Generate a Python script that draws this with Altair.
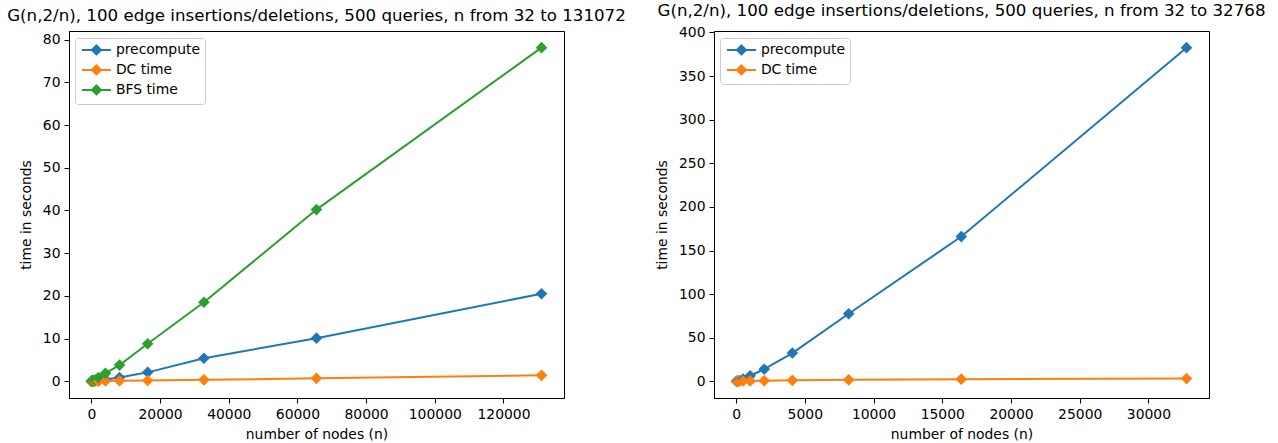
import altair as alt
import pandas as pd

# ---- data ----
n_left = [32, 64, 128, 256, 512, 1024, 2048, 4096, 8192, 16384, 32768, 65536, 131072]
precompute_left = [0.002, 0.004, 0.01, 0.02, 0.05, 0.1, 0.22, 0.45, 0.9, 2.1, 5.4, 10.1, 20.5]
dc_left = [0.01, 0.01, 0.02, 0.02, 0.03, 0.04, 0.06, 0.08, 0.12, 0.2, 0.35, 0.7, 1.4]
bfs_left = [0.01, 0.02, 0.04, 0.08, 0.15, 0.3, 0.9, 1.9, 3.8, 8.8, 18.5, 40.2, 78.1]

n_right = [32, 64, 128, 256, 512, 1024, 2048, 4096, 8192, 16384, 32768]
precompute_right = [0.1, 0.2, 0.5, 1.0, 2.8, 6.5, 14.0, 32.5, 77.5, 166.0, 382.5]
dc_right = [0.2, 0.2, 0.3, 0.3, 0.4, 0.6, 0.8, 1.2, 1.8, 2.6, 3.2]

names_left = ["precompute", "DC time", "BFS time"]
names_right = ["precompute", "DC time"]
colors = ["#1f77b4", "#ff7f0e", "#2ca02c"]

x_ticks_left = [0, 20000, 40000, 60000, 80000, 100000, 120000]
y_ticks_left = [0, 10, 20, 30, 40, 50, 60, 70, 80]
x_ticks_right = [0, 5000, 10000, 15000, 20000, 25000, 30000]
y_ticks_right = [0, 50, 100, 150, 200, 250, 300, 350, 400]

title_left = "G(n,2/n), 100 edge insertions/deletions, 500 queries, n from 32 to 131072"
title_right = "G(n,2/n), 100 edge insertions/deletions, 500 queries, n from 32 to 32768"


def long_table(ns, series, names):
    rows = []
    for name, vals in zip(names, series):
        for n, v in zip(ns, vals):
            rows.append({"n": n, "t": v, "series": name})
    return pd.DataFrame(rows)


def margin_domain(lo, hi):
    m = (hi - lo) * 0.05
    return [lo - m, hi + m]


FONT = "DejaVu Sans"
TICK_FS = 13.9
TITLE_FS = 16.67
# legend handle: a line with a diamond in its middle (units of half the symbol box)
LEG_SYMBOL = "M-1,0L4.8,0M1.9,-0.9L2.8,0L1.9,0.9L1.0,0Z"


def panel(df, names, xticks, yticks, title):
    xdom = margin_domain(df["n"].min(), df["n"].max())
    ydom = margin_domain(df["t"].min(), df["t"].max())
    color = alt.Color(
        "series:N",
        scale=alt.Scale(domain=names, range=colors[: len(names)]),
        legend=alt.Legend(
            title=None,
            orient="none",
            legendX=6,
            legendY=7,
            symbolType=LEG_SYMBOL,
            symbolSize=100,
            symbolStrokeWidth=2,
            labelFont=FONT,
            labelFontSize=TICK_FS,
            labelColor="black",
            labelOffset=22,
            rowPadding=2,
            padding=5,
            fillColor="white",
            strokeColor="#cccccc",
            cornerRadius=3,
        ),
    )
    x = alt.X(
        "n:Q",
        scale=alt.Scale(domain=xdom, nice=False, zero=False),
        axis=alt.Axis(values=xticks, format="d", title="number of nodes (n)"),
    )
    y = alt.Y(
        "t:Q",
        scale=alt.Scale(domain=ydom, nice=False, zero=False),
        axis=alt.Axis(values=yticks, title="time in seconds"),
    )
    base = alt.Chart(df).encode(x=x, y=y, color=color, order="n:Q")
    line = base.mark_line(strokeWidth=2)
    pts = base.mark_point(shape="diamond", size=135, filled=True, opacity=1)
    return alt.layer(line, pts).properties(
        width=495,
        height=367,
        title=alt.TitleParams(
            title,
            font=FONT,
            fontSize=TITLE_FS,
            fontWeight="normal",
            color="black",
            anchor="middle",
            frame="group",
            offset=6,
        ),
    )


left = panel(
    long_table(n_left, [precompute_left, dc_left, bfs_left], names_left),
    names_left, x_ticks_left, y_ticks_left, title_left,
)
right = panel(
    long_table(n_right, [precompute_right, dc_right], names_right),
    names_right, x_ticks_right, y_ticks_right, title_right,
)

chart = (
    alt.hconcat(left, right, spacing=150, bounds="flush")
    .resolve_scale(color="independent", x="independent", y="independent")
    .properties(padding={"left": 6, "top": 2, "right": 0, "bottom": 0}, background="white")
    .configure_view(stroke="black", strokeWidth=1)
    .configure_axis(
        grid=False,
        labelFont=FONT,
        labelFontSize=TICK_FS,
        labelColor="black",
        titleFont=FONT,
        titleFontSize=TICK_FS,
        titleFontWeight="normal",
        titleColor="black",
        tickColor="black",
        tickSize=5,
        labelPadding=4,
        domainColor="black",
    )
    .configure_axisY(titlePadding=9)
    .configure_axisX(titlePadding=7)
)

chart.save("out.html", embed_options={"renderer": "svg", "actions": False})
